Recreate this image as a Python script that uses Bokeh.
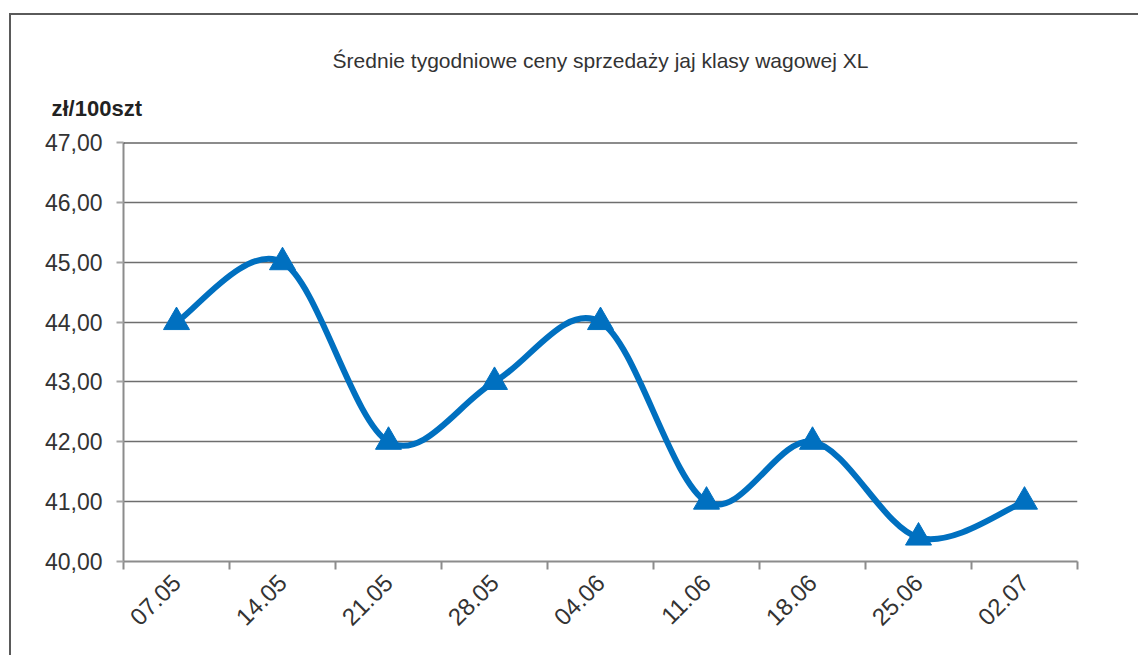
import math
from bokeh.plotting import figure
from bokeh.models import Range1d, FixedTicker, Span, Title
from bokeh.embed import file_html
from bokeh.resources import INLINE

categories = ["07.05", "14.05", "21.05", "28.05", "04.06", "11.06", "18.06", "25.06", "02.07"]
prices = [44.0, 45.0, 42.0, 43.0, 44.0, 41.0, 42.0, 40.4, 41.0]
y_ticks = [40, 41, 42, 43, 44, 45, 46, 47]
y_tick_labels = ["40,00", "41,00", "42,00", "43,00", "44,00", "45,00", "46,00", "47,00"]
title_text = "Średnie tygodniowe ceny sprzedaży jaj klasy wagowej XL"
unit_text = "zł/100szt"

FONT = "Liberation Sans"
BLUE = "#0070C0"

n = len(categories)
xs = [i + 0.5 for i in range(n)]

p = figure(width=1129, height=642, output_backend="svg", toolbar_location=None,
           x_range=Range1d(0, n), y_range=Range1d(40, 47),
           min_border_left=112, min_border_right=63, min_border_top=127, min_border_bottom=96)
p.styles = {"margin-left": "9px", "margin-top": "13px",
            "border-left": "2px solid #5a5a5a", "border-top": "2px solid #5a5a5a"}
p.outline_line_color = None

p.xaxis.ticker = FixedTicker(ticks=xs, minor_ticks=list(range(n + 1)))
p.xaxis.major_label_overrides = {x: c for x, c in zip(xs, categories)}
p.xaxis.major_tick_line_color = None
p.xaxis.minor_tick_line_color = "#8c8c8c"
p.xaxis.minor_tick_line_width = 2
p.xaxis.minor_tick_out = 8
p.xaxis.minor_tick_in = 0
p.xaxis.axis_line_color = "#8c8c8c"
p.xaxis.axis_line_width = 2
p.xaxis.major_label_orientation = math.pi / 4
p.xaxis.major_label_text_font = FONT
p.xaxis.major_label_text_font_size = "24px"
p.xaxis.major_label_text_color = "#333333"
p.xaxis.major_label_standoff = 9
p.xgrid.grid_line_color = None

p.yaxis.ticker = FixedTicker(ticks=y_ticks, minor_ticks=[])
p.yaxis.major_label_overrides = {t: l for t, l in zip(y_ticks, y_tick_labels)}
p.yaxis.major_tick_line_color = "#a6a6a6"
p.yaxis.major_tick_line_width = 2
p.yaxis.major_tick_out = 7
p.yaxis.major_tick_in = 0
p.yaxis.axis_line_color = "#8c8c8c"
p.yaxis.axis_line_width = 2
p.yaxis.major_label_text_font = FONT
p.yaxis.major_label_text_font_size = "23px"
p.yaxis.major_label_text_color = "#333333"
p.yaxis.major_label_standoff = 14
p.ygrid.grid_line_color = "#6e6e6e"
p.ygrid.grid_line_width = 1.5
p.add_layout(Span(location=47, dimension="width", line_color="#1a1a1a", line_width=2))

pts = list(zip(xs, prices))
x0s, y0s, x1s, y1s, cx0s, cy0s, cx1s, cy1s = [], [], [], [], [], [], [], []
for i in range(n - 1):
    pa = pts[i - 1] if i > 0 else pts[i]
    pb = pts[i]
    pc = pts[i + 1]
    pd = pts[i + 2] if i + 2 < n else pts[i + 1]
    x0s.append(pb[0]); y0s.append(pb[1])
    x1s.append(pc[0]); y1s.append(pc[1])
    cx0s.append(pb[0] + (pc[0] - pa[0]) / 6); cy0s.append(pb[1] + (pc[1] - pa[1]) / 6)
    cx1s.append(pc[0] - (pd[0] - pb[0]) / 6); cy1s.append(pc[1] - (pd[1] - pb[1]) / 6)
p.bezier(x0=x0s, y0=y0s, x1=x1s, y1=y1s, cx0=cx0s, cy0=cy0s, cx1=cx1s, cy1=cy1s,
         line_color=BLUE, line_width=6, line_cap="round")
p.scatter(xs, prices, marker="triangle", size=26, fill_color=BLUE, line_color=BLUE, line_width=1)

unit = Title(text=unit_text, align="left", offset=-72, standoff=44,
             text_font=FONT, text_font_size="22px", text_font_style="bold", text_color="#222222")
p.add_layout(unit, "above")
main = Title(text=title_text, align="center", offset=6, standoff=0,
             text_font=FONT, text_font_size="21px", text_font_style="normal", text_color="#333333")
p.add_layout(main, "above")

open("out.html", "w").write(file_html(p, INLINE))
